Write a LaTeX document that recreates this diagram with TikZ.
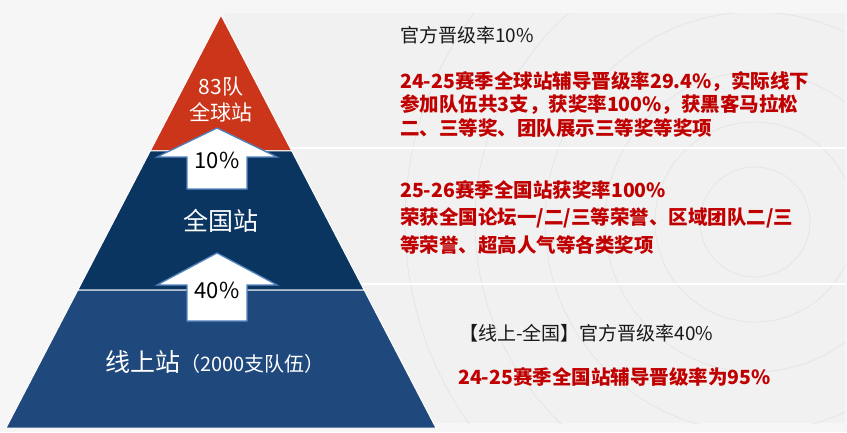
\documentclass[tikz,border=0pt]{standalone}
\usepackage{fontspec}
\newfontfamily\cjk{Noto Sans CJK SC}
\usetikzlibrary{positioning,calc}
\definecolor{bgwhite}{RGB}{246,246,246}
\definecolor{panelgrey}{RGB}{241,241,241}
\definecolor{ringgrey}{RGB}{229,229,229}
\definecolor{topred}{RGB}{203,54,27}
\definecolor{midnavy}{RGB}{9,53,96}
\definecolor{lowblue}{RGB}{31,72,124}
\definecolor{arrowblue}{RGB}{79,129,189}
\definecolor{awardred}{RGB}{192,0,0}
\definecolor{plainblack}{RGB}{25,25,25}

\begin{document}
\begin{tikzpicture}[x=1pt, y=-1pt]
\tikzstyle{layer}=[draw=white, line width=1pt]
\tikzstyle{upbox}=[fill=white, draw=arrowblue, line width=1.3pt, line join=miter]
\tikzstyle{layertext}=[text=white, align=center, inner sep=0pt]
\tikzstyle{ratetext}=[text=black, font=\cjk\fontsize{22}{24}\selectfont, inner sep=0pt]
\tikzstyle{offtext}=[anchor=west, text=plainblack, inner sep=0pt, font=\cjk\fontsize{19}{22}\selectfont]
\tikzstyle{awardtext}=[anchor=west, align=left, text=awardred, inner sep=0pt, font=\cjk\bfseries\fontsize{19.5}{23.5}\selectfont]
\useasboundingbox (0,0) rectangle (847,432);
\fill[bgwhite] (0,0) rectangle (847,432);
\fill[panelgrey] (225,13) rectangle (845,423);
%
\begin{scope}
\clip (225,13) rectangle (845,423);
\foreach \r in {55,100,150,210,280,350}
  \draw[ringgrey, line width=0.8pt] (755,222) circle (\r pt);
\end{scope}
\draw[white, line width=2pt] (225,148) -- (845,148);
\draw[white, line width=2pt] (225,284) -- (845,284);
%
\coordinate (apex) at (221,15);
\coordinate (bl)   at (6,428);
\coordinate (br)   at (436,428);
\coordinate (t1l) at ($(apex)!0.329!(bl)$);
\coordinate (t1r) at ($(apex)!0.329!(br)$);
\coordinate (t2l) at ($(apex)!0.666!(bl)$);
\coordinate (t2r) at ($(apex)!0.666!(br)$);
\filldraw[layer, fill=topred]  (apex) -- (t1l) -- (t1r) -- cycle;
\filldraw[layer, fill=midnavy] (t1l) -- (t2l) -- (t2r) -- (t1r) -- cycle;
\filldraw[layer, fill=lowblue] (t2l) -- (bl) -- (br) -- (t2r) -- cycle;
%
\draw[upbox] (217,128) -- (277,157) -- (247,157) -- (247,189) -- (187,189) -- (187,157) -- (157,157) -- cycle;
\draw[upbox] (217,253) -- (277,285) -- (247,285) -- (247,321) -- (187,321) -- (187,285) -- (157,285) -- cycle;
\node[ratetext] (up1) at (217,160) {10\%};
\node[ratetext] (up2) at (217,290) {40\%};
%
\node[layertext, font=\cjk\fontsize{21}{26}\selectfont] (global) at (221,100) {83队\\全球站};
\node[layertext, font=\cjk\fontsize{25}{28}\selectfont] (national) at (221,221) {全国站};
\node[layertext] (online) at (215,362) {{\cjk\fontsize{25}{28}\selectfont 线上站}{\cjk\fontsize{20}{28}\selectfont （2000支队伍）}};
%
\node[offtext] (off1) at (400,35) {官方晋级率10\%};
\node[awardtext] (award1) at (400,104.5) {24-25赛季全球站辅导晋级率29.4\%，实际线下\\参加队伍共3支，获奖率100\%，获黑客马拉松\\二、三等奖、团队展示三等奖等奖项};
\node[awardtext, font=\cjk\bfseries\fontsize{19.5}{27.5}\selectfont] (award2) at (400,217) {25-26赛季全国站获奖率100\%\\荣获全国论坛一/二/三等荣誉、区域团队二/三\\等荣誉、超高人气等各类奖项};
\node[offtext] (off3) at (459,333) {【线上-全国】官方晋级率40\%};
\node[awardtext] (award3) at (458,377) {24-25赛季全国站辅导晋级率为95\%};
\end{tikzpicture}
\end{document}
